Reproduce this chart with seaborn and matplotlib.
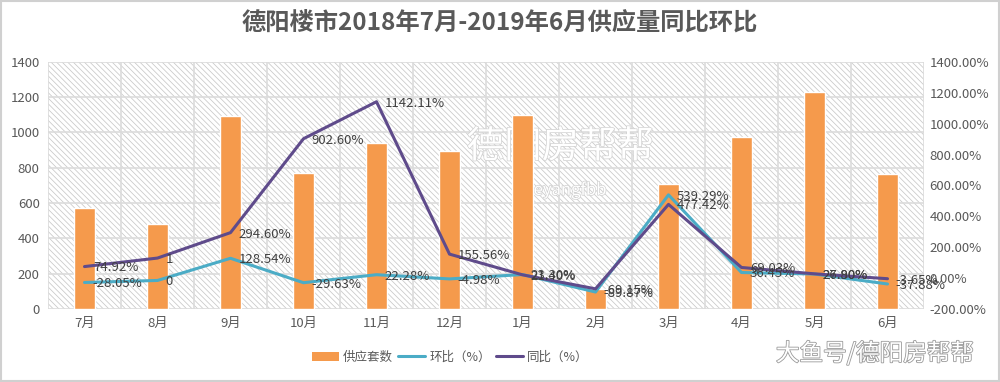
import numpy as np
import pandas as pd
import matplotlib
matplotlib.use("Agg")
import matplotlib.pyplot as plt
import matplotlib.patheffects as pe
from matplotlib.patches import Rectangle, Patch
from matplotlib.lines import Line2D
import seaborn as sns

# ---------------- data ----------------
months = ["7月", "8月", "9月", "10月", "11月", "12月", "1月", "2月", "3月", "4月", "5月", "6月"]
supply = [570, 480, 1095, 770, 940, 895, 1100, 112, 710, 975, 1230, 765]
mom = [-28.05, -15, 128.54, -29.63, 22.28, -4.98, 23.30, -89.87, 539.29, 36.45, 26.80, -37.88]
yoy = [74.92, 130, 294.60, 902.60, 1142.11, 155.56, 21.40, -69.15, 477.42, 69.03, 27.90, -3.65]
mom_labels = ["-28.05%", "0", "128.54%", "-29.63%", "22.28%", "-4.98%", "23.30%", "-89.87%",
              "539.29%", "36.45%", "26.80%", "-37.88%"]
yoy_labels = ["74.92%", "1", "294.60%", "902.60%", "1142.11%", "155.56%", "21.40%", "-69.15%",
              "477.42%", "69.03%", "27.90%", "-3.65%"]
left_ticks = [0, 200, 400, 600, 800, 1000, 1200, 1400]
right_ticks = [-200, 0, 200, 400, 600, 800, 1000, 1200, 1400]

title = "德阳楼市2018年7月-2019年6月供应量同比环比"
legend_names = ["供应套数", "环比（%）", "同比（%）"]
watermark = "大鱼号/德阳房帮帮"
center_mark = "德阳房帮帮"
center_mark_sub = "deyangfbb"

# ---------------- style ----------------
sns.set_theme(style="white")
plt.rcParams["font.family"] = ["Noto Sans CJK SC", "DejaVu Sans"]
plt.rcParams["hatch.linewidth"] = 0.55
plt.rcParams["hatch.color"] = "#c8c8c8"

bar_color = "#F59A4C"
mom_color = "#4BACC6"
yoy_color = "#5F4B8B"
text_color = "#595959"
label_color = "#404040"

df = pd.DataFrame({"month": months, "supply": supply})
x = np.arange(len(months))

fig = plt.figure(figsize=(10, 3.82), dpi=100)
ax = fig.add_axes([0.048, 0.191, 0.876, 0.647])

# hatched plot background
ax.add_patch(Rectangle((0, 0), 1, 1, transform=ax.transAxes, facecolor="white",
                       edgecolor="#c8c8c8", linewidth=0, hatch="\\\\\\\\\\\\", zorder=0))

# faint central watermark
ax.text(0.585, 0.655, center_mark, transform=ax.transAxes, ha="center", va="center",
        fontsize=27, color="white", zorder=1.5,
        path_effects=[pe.withStroke(linewidth=1.0, foreground="#d0d0d0")])
ax.text(0.59, 0.48, center_mark_sub, transform=ax.transAxes, ha="center", va="center",
        fontsize=12, color="white", zorder=1.5,
        path_effects=[pe.withStroke(linewidth=1.0, foreground="#d0d0d0")])

sns.barplot(data=df, x="month", y="supply", color=bar_color, width=0.29,
            saturation=1, ax=ax, zorder=3)
ax.set_xlim(-0.5, len(months) - 0.5)
ax.set_ylim(0, 1400)
ax.set_yticks(left_ticks)
ax.set_xlabel("")
ax.set_ylabel("")
ax.tick_params(axis="both", labelsize=9.5, colors=text_color, length=0, pad=6)
# gridlines: horizontal at ticks, vertical at category boundaries
for yv in left_ticks:
    ax.axhline(yv, color="#dcdcdc", lw=1.2, zorder=1)
for xv in np.arange(-0.5, len(months) + 0.5, 1):
    ax.axvline(xv, color="#dcdcdc", lw=1.2, zorder=1)
for s in ax.spines.values():
    s.set_visible(False)

ax2 = ax.twinx()
sns.lineplot(x=x, y=mom, color=mom_color, lw=2.2, ax=ax2, zorder=4)
sns.lineplot(x=x, y=yoy, color=yoy_color, lw=2.2, ax=ax2, zorder=5)
ax2.set_ylim(-200, 1400)
ax2.set_yticks(right_ticks)
ax2.set_yticklabels([f"{v:.2f}%" for v in right_ticks])
ax2.tick_params(axis="y", labelsize=9.5, colors=text_color, length=0, pad=4)
for s in ax2.spines.values():
    s.set_visible(False)

for xi, v, lab in zip(x, mom, mom_labels):
    ax2.annotate(lab, (xi, v), xytext=(6, -1), textcoords="offset points",
                 ha="left", va="center", fontsize=9.5, color=label_color, zorder=6)
for xi, v, lab in zip(x, yoy, yoy_labels):
    ax2.annotate(lab, (xi, v), xytext=(6, -1), textcoords="offset points",
                 ha="left", va="center", fontsize=9.5, color=label_color, zorder=6)

fig.text(0.5, 0.942, title, ha="center", va="center", fontsize=17.5,
         fontweight="bold", color=text_color)

handles = [Patch(facecolor=bar_color, edgecolor="none"),
           Line2D([0], [0], color=mom_color, lw=2.2),
           Line2D([0], [0], color=yoy_color, lw=2.2)]
fig.legend(handles, legend_names, loc="center", bbox_to_anchor=(0.45, 0.065),
           ncol=3, frameon=False, fontsize=9, handlelength=2.2, columnspacing=0.4,
           handletextpad=0.3, labelcolor=text_color)

fig.text(0.875, 0.075, watermark, ha="center", va="center", fontsize=17,
         color="white", path_effects=[pe.withStroke(linewidth=1.2, foreground="#9a9a9a")])

fig.patches.append(Rectangle((0.001, 0.002), 0.998, 0.996, transform=fig.transFigure,
                             fill=False, edgecolor="#d0d0d0", lw=1.5))

fig.savefig("out.png", dpi=100)
